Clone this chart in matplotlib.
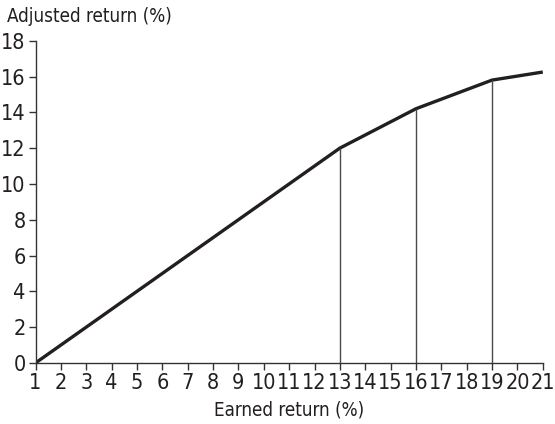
import matplotlib
matplotlib.use('Agg')
import matplotlib.pyplot as plt

earned = [1, 13, 16, 19, 21]
adjusted = [0, 12.0, 14.2, 15.8, 16.25]
marks = [13, 16, 19]
xticks = list(range(1, 22))
yticks = list(range(0, 19, 2))

plt.rcParams['font.family'] = ['DejaVu Sans']
plt.rcParams['font.stretch'] = 'condensed'

fig = plt.figure(figsize=(5.55, 4.24), dpi=100)
ax = fig.add_axes([0.064, 0.144, 0.914, 0.76])

ax.plot(earned, adjusted, color='#231f20', linewidth=2.4, solid_capstyle='butt')
for m in marks:
    yv = adjusted[earned.index(m)]
    ax.vlines(m, 0, yv, color='#4a4a4a', linewidth=1.0)

ax.set_xlim(1, 21)
ax.set_ylim(0, 18)
ax.set_xticks(xticks)
ax.set_yticks(yticks)
ax.tick_params(axis='both', direction='out', length=5, width=1, labelsize=15.5,
               pad=2, color='#333333', labelcolor='#231f20')
for s in ['top', 'right']:
    ax.spines[s].set_visible(False)
for s in ['left', 'bottom']:
    ax.spines[s].set_linewidth(1)
    ax.spines[s].set_color('#333333')

ax.set_xlabel('Earned return (%)', fontsize=13.5, color='#231f20', labelpad=6)
fig.text(0.012, 0.96, 'Adjusted return (%)', fontsize=13.5, color='#231f20', ha='left', va='center')

fig.savefig('out.png', dpi=100)
